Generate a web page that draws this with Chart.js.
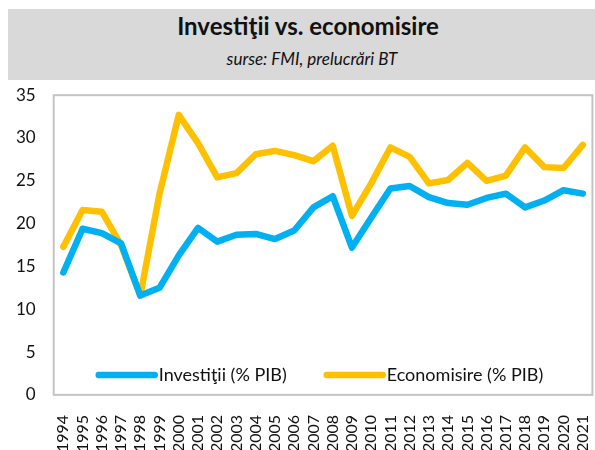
<!DOCTYPE html>
<html lang="ro">

<head>
  <meta charset="UTF-8" />
  <title>Investiţii vs. economisire</title>
  <style>
    html, body { margin: 0; padding: 0; width: 595px; height: 450px; overflow: hidden; background: #fff; }
    .header {
      position: absolute; left: 8px; top: 9px; width: 587px; height: 71px; z-index: 2;
      background: #d9d9d9; text-align: center; font-family: Lato, sans-serif; color: #111;
    }
    .header h1 { margin: 0; padding: 2px 0 0 13px; font-size: 24px; font-weight: 700; line-height: 30px; }
    .header p { margin: 0; padding: 8px 0 0 21px; font-size: 17px; font-style: italic; line-height: 20px; }
    .chart-box { position: absolute; left: -2px; top: 67px; width: 624px; height: 405px; }
  </style>
</head>

<body>
  <div class="header">
    <h1>Investiţii vs. economisire</h1>
    <p>surse: FMI, prelucrări BT</p>
  </div>
  <div class="chart-box">
    <canvas id="myChart" width="624" height="405"></canvas>
  </div>

  <script src="https://cdn.jsdelivr.net/npm/chart.js@4"></script>
  <script>
    const years = ["1994", "1995", "1996", "1997", "1998", "1999", "2000", "2001", "2002", "2003",
      "2004", "2005", "2006", "2007", "2008", "2009", "2010", "2011", "2012", "2013",
      "2014", "2015", "2016", "2017", "2018", "2019", "2020", "2021"];
    const investitii = [14.3, 19.4, 18.9, 17.7, 11.6, 12.5, 16.3, 19.5, 17.9, 18.7,
      18.8, 18.2, 19.2, 21.9, 23.2, 17.2, 20.7, 24.1, 24.4, 23.1,
      22.4, 22.2, 23.0, 23.5, 21.9, 22.7, 23.9, 23.5];
    const economisire = [17.3, 21.6, 21.4, 17.5, 11.6, 23.5, 32.7, 29.4, 25.4, 25.9,
      28.1, 28.5, 28.0, 27.3, 29.1, 20.9, 24.7, 28.9, 27.8, 24.7,
      25.1, 27.1, 25.0, 25.6, 28.9, 26.6, 26.5, 29.2];
    const yTicks = [0, 5, 10, 15, 20, 25, 30, 35];

    // chenar gri in jurul zonei graficului
    const frame = {
      id: "frame",
      beforeDatasetsDraw(chart) {
        const { ctx, chartArea: a } = chart;
        ctx.save();
        ctx.strokeStyle = "#c4c4c4";
        ctx.lineWidth = 2;
        ctx.strokeRect(a.left, a.top, a.right - a.left, a.bottom - a.top);
        ctx.restore();
      }
    };

    // legenda in interiorul graficului, jos
    const innerLegend = {
      id: "innerLegend",
      afterDatasetsDraw(chart) {
        const { ctx, chartArea: a } = chart;
        const y = a.bottom - 20;
        const starts = [a.left + 45, a.left + 273];
        ctx.save();
        ctx.font = "18px Lato, sans-serif";
        ctx.textBaseline = "middle";
        chart.data.datasets.forEach((ds, i) => {
          const x = starts[i];
          ctx.strokeStyle = ds.borderColor;
          ctx.lineWidth = 6.5;
          ctx.lineCap = "round";
          ctx.beginPath();
          ctx.moveTo(x, y);
          ctx.lineTo(x + 56, y);
          ctx.stroke();
          ctx.fillStyle = "#111";
          ctx.fillText(ds.label, x + 60, y);
        });
        ctx.restore();
      }
    };

    const ctx = document.getElementById("myChart").getContext("2d");
    const myChart = new Chart(ctx, {
      type: "line",
      data: {
        labels: years,
        datasets: [
          {
            label: "Investiţii (% PIB)",
            data: investitii,
            borderColor: "#00b0f0",
            borderWidth: 6.5,
            fill: false,
          },
          {
            label: "Economisire (% PIB)",
            data: economisire,
            borderColor: "#ffc000",
            borderWidth: 6.5,
            fill: false,
          },
        ],
      },
      options: {
        responsive: false,
        animation: false,
        layout: { padding: { left: 0, top: 2, right: 0, bottom: 0 } },
        elements: {
          point: { radius: 0 },
          line: { tension: 0, borderCapStyle: "round", borderJoinStyle: "round" },
        },
        plugins: {
          legend: { display: false },
          tooltip: { enabled: false },
        },
        scales: {
          x: {
            offset: true,
            grid: { display: false, drawTicks: false },
            border: { display: false },
            ticks: {
              autoSkip: false,
              minRotation: 90,
              maxRotation: 90,
              padding: 20,
              color: "#111",
              font: { family: "Lato", size: 16 },
            },
          },
          y: {
            min: 0,
            max: 35,
            grid: { display: false, drawTicks: false },
            border: { display: false },
            afterBuildTicks(axis) {
              axis.ticks = yTicks.map((v) => ({ value: v }));
            },
            ticks: {
              padding: 18,
              color: "#111",
              font: { family: "Lato", size: 17 },
            },
          },
        },
      },
      plugins: [frame, innerLegend],
    });
  </script>
</body>

</html>
